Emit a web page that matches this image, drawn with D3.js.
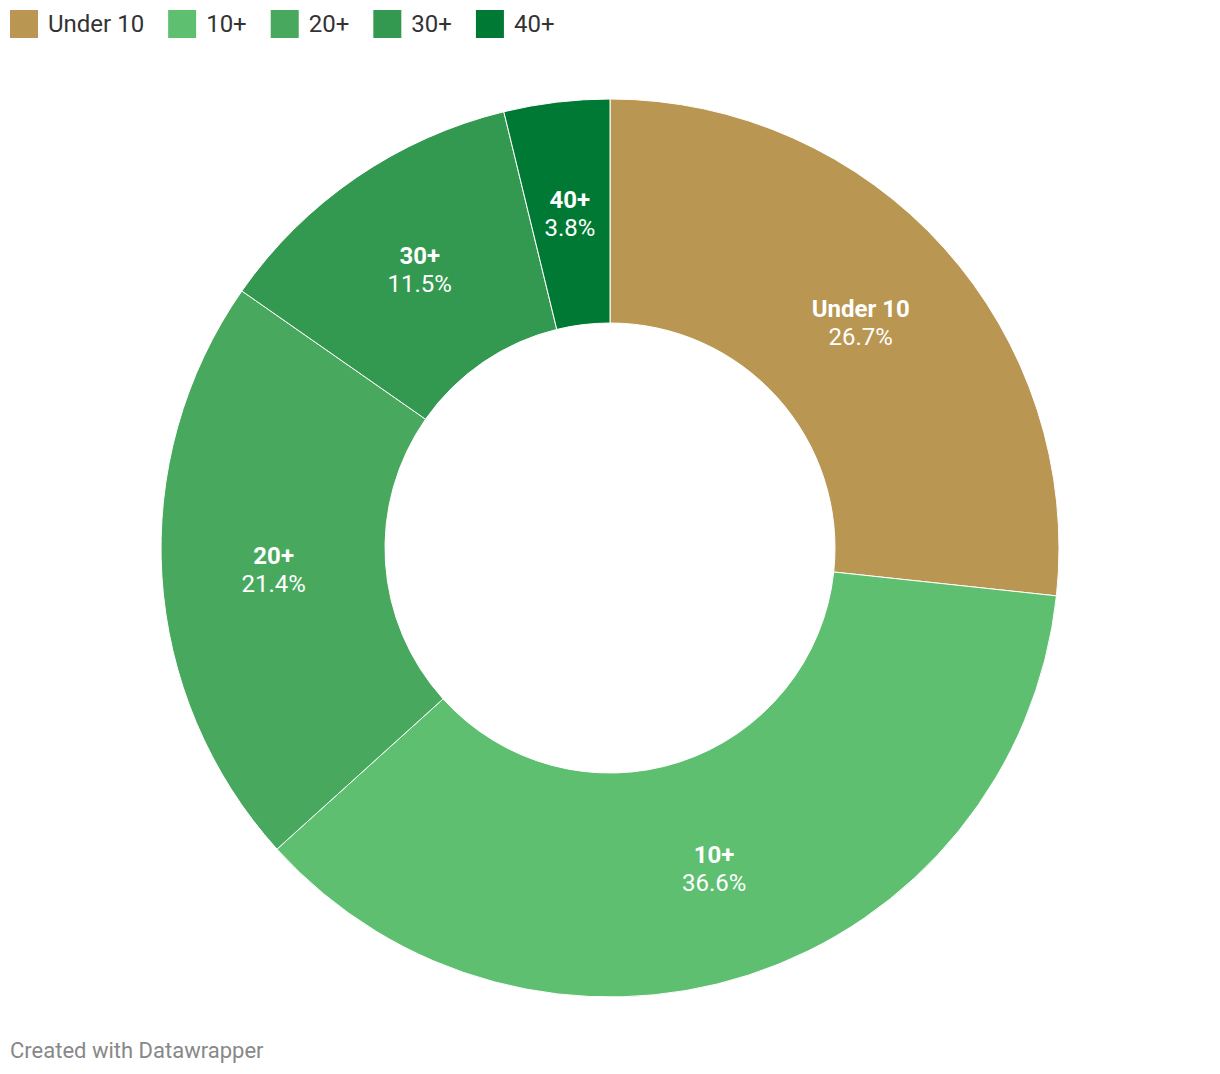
<!DOCTYPE html>
<html lang="en">
<head>
    <meta charset="UTF-8">
    <title>Age groups</title>
    <script src="https://cdn.jsdelivr.net/npm/d3@7"></script>
    <style>
      body { margin: 0; background: #fff; font-family: Roboto, sans-serif; }
    </style>
</head>
<body>
<script>
  var categories = ["Under 10", "10+", "20+", "30+", "40+"];
  var values = [26.7, 36.6, 21.4, 11.5, 3.8];
  var colors = ["#b99651", "#5ebf71", "#48a95e", "#349950", "#007934"];

  drawChart();

  function drawChart() {
    var width = 1220, height = 1074;
    var cx = 610, cy = 548;
    var outerR = 449, innerR = 225;

    var svg = d3.select("body").append("svg")
      .attr("width", width)
      .attr("height", height);

    var data = categories.map(function (c, i) {
      return {name: c, value: values[i], color: colors[i]};
    });

    // legend
    var legend = svg.append("g").attr("transform", "translate(10,10)");
    var lx = 0;
    data.forEach(function (d) {
      var item = legend.append("g").attr("transform", "translate(" + lx + ",0)");
      item.append("rect")
        .attr("width", 28)
        .attr("height", 28)
        .attr("fill", d.color);
      var t = item.append("text")
        .attr("x", 38)
        .attr("y", 14)
        .attr("dy", "0.35em")
        .attr("font-size", 24)
        .attr("fill", "#333")
        .text(d.name);
      lx += 38 + t.node().getComputedTextLength() + 24;
    });

    var pie = d3.pie().sort(null).value(function (d) { return d.value; });
    var arc = d3.arc().innerRadius(innerR).outerRadius(outerR);
    var labelArc = d3.arc().innerRadius((innerR + outerR) / 2).outerRadius((innerR + outerR) / 2);

    var g = svg.append("g").attr("transform", "translate(" + cx + "," + cy + ")");
    var arcs = pie(data);

    g.selectAll("path")
      .data(arcs)
      .enter()
      .append("path")
      .attr("d", arc)
      .attr("fill", function (d) { return d.data.color; })
      .attr("stroke", "#fff")
      .attr("stroke-width", 1);

    var labels = g.selectAll("g.label")
      .data(arcs)
      .enter()
      .append("g")
      .attr("class", "label")
      .attr("transform", function (d) { return "translate(" + labelArc.centroid(d) + ")"; });

    labels.append("text")
      .attr("text-anchor", "middle")
      .attr("y", -14)
      .attr("dy", "0.35em")
      .attr("font-size", 24)
      .attr("font-weight", "bold")
      .attr("fill", "#fff")
      .text(function (d) { return d.data.name; });

    labels.append("text")
      .attr("text-anchor", "middle")
      .attr("y", 14)
      .attr("dy", "0.35em")
      .attr("font-size", 24)
      .attr("fill", "#fff")
      .text(function (d) { return d.data.value.toFixed(1) + "%"; });

    svg.append("text")
      .attr("x", 10)
      .attr("y", 1058)
      .attr("font-size", 22)
      .attr("fill", "#888")
      .text("Created with Datawrapper");
  }
</script>
</body>
</html>
